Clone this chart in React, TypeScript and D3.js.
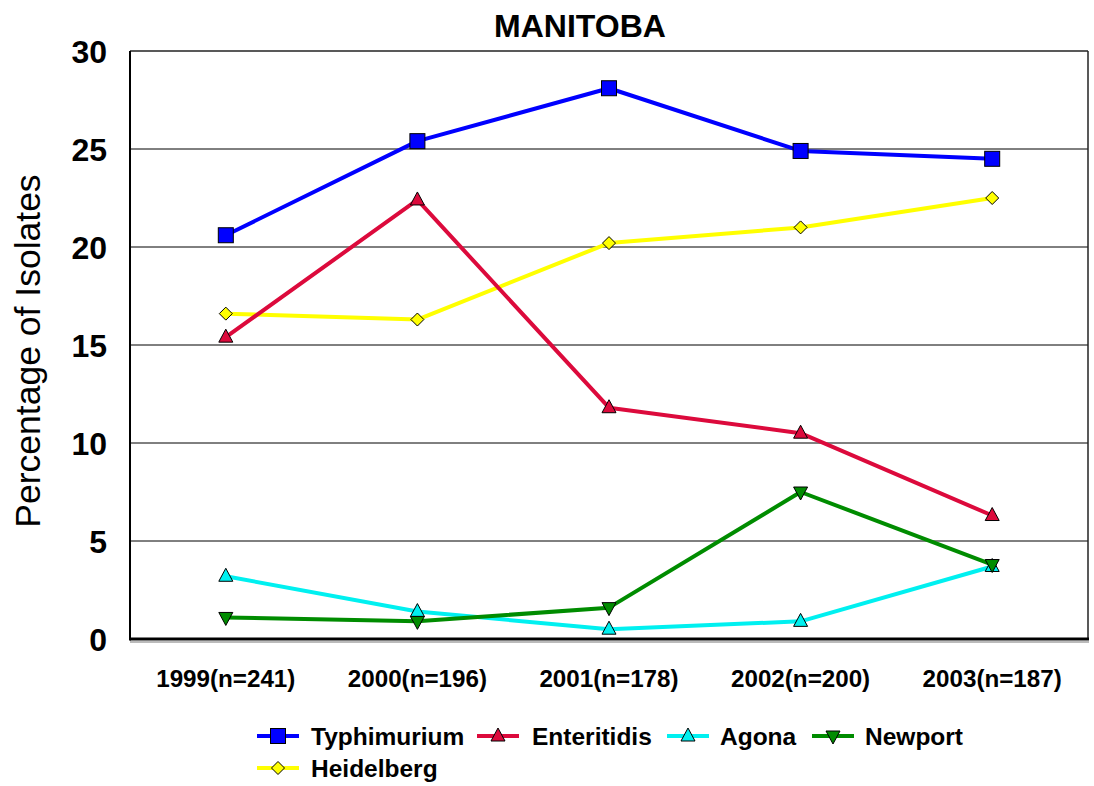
import React from "react";
import * as d3 from "d3";

const categories = ["1999(n=241)", "2000(n=196)", "2001(n=178)", "2002(n=200)", "2003(n=187)"];
const typhimurium = [20.6, 25.4, 28.1, 24.9, 24.5];
const enteritidis = [15.4, 22.4, 11.8, 10.5, 6.3];
const agona = [3.2, 1.4, 0.5, 0.9, 3.7];
const newport = [1.1, 0.9, 1.6, 7.5, 3.8];
const heidelberg = [16.6, 16.3, 20.2, 21.0, 22.5];
const yTicks = [0, 5, 10, 15, 20, 25, 30];

type Shape = "square" | "tri" | "triDown" | "diamond";
const series: { name: string; values: number[]; color: string; shape: Shape }[] = [
  { name: "Typhimurium", values: typhimurium, color: "#0000ff", shape: "square" },
  { name: "Enteritidis", values: enteritidis, color: "#dc0a3c", shape: "tri" },
  { name: "Agona", values: agona, color: "#00f0f0", shape: "tri" },
  { name: "Newport", values: newport, color: "#008c00", shape: "triDown" },
  { name: "Heidelberg", values: heidelberg, color: "#ffff00", shape: "diamond" },
];
const drawOrder = [4, 2, 3, 1, 0];

const W = 1094, H = 786;
const left = 130, right = 1088, top = 51, bottom = 639;
const FONT = "'Liberation Sans', Arial, sans-serif";

function Marker({ shape, x, y, fill }: { shape: Shape; x: number; y: number; fill: string }) {
  const stroke = "#000";
  if (shape === "square") return <rect x={x - 7.5} y={y - 7.5} width={15} height={15} fill={fill} stroke={stroke} strokeWidth={1} />;
  if (shape === "tri") return <path d={`M${x},${y - 8}L${x + 7},${y + 5}L${x - 7},${y + 5}Z`} fill={fill} stroke={stroke} strokeWidth={1} />;
  if (shape === "triDown") return <path d={`M${x},${y + 8}L${x + 7},${y - 5}L${x - 7},${y - 5}Z`} fill={fill} stroke={stroke} strokeWidth={1} />;
  return <path d={`M${x},${y - 6.5}L${x + 6.5},${y}L${x},${y + 6.5}L${x - 6.5},${y}Z`} fill={fill} stroke={stroke} strokeWidth={1} />;
}

export default function App() {
  const x = d3.scalePoint<string>().domain(categories).range([left, right]).padding(0.5);
  const y = d3.scaleLinear().domain([0, 30]).range([bottom, top]);
  const line = d3.line<number>().x((_, i) => x(categories[i]) as number).y((d) => y(d));

  const legendItems = [
    { i: 0, lx: 257, tx: 311, ly: 736 },
    { i: 1, lx: 477, tx: 532, ly: 736 },
    { i: 2, lx: 667, tx: 720, ly: 736 },
    { i: 3, lx: 812, tx: 865, ly: 736 },
    { i: 4, lx: 257, tx: 311, ly: 768 },
  ];

  return (
    <svg width={W} height={H} style={{ position: "absolute", left: 0, top: 0, background: "#fff" }} fontFamily={FONT}>
      <rect x={0} y={0} width={W} height={H} fill="#fff" />
      {yTicks.filter((t) => t > 0 && t < 30).map((t) => (
        <line key={t} x1={left} x2={right} y1={y(t)} y2={y(t)} stroke="#000" strokeWidth={1} />
      ))}
      <line x1={left} x2={right} y1={top} y2={top} stroke="#222" strokeWidth={1.5} />
      <line x1={right} x2={right} y1={top} y2={bottom} stroke="#222" strokeWidth={1.5} />
      <line x1={left} x2={right + 1} y1={bottom + 3} y2={bottom + 3} stroke="#bbb" strokeWidth={2} />
      <line x1={left} x2={right + 1} y1={bottom} y2={bottom} stroke="#000" strokeWidth={3} />
      <line x1={left} x2={left} y1={top} y2={bottom + 1.5} stroke="#000" strokeWidth={2} />
      {yTicks.map((t) => (
        <text key={t} x={107} y={y(t)} dy="0.36em" textAnchor="end" fontSize={32} fontWeight="bold">{t}</text>
      ))}
      {categories.map((c) => (
        <text key={c} x={x(c)} y={687} textAnchor="middle" fontSize={24.2} fontWeight="bold">{c}</text>
      ))}
      <text x={580} y={37} textAnchor="middle" fontSize={32} fontWeight="bold">MANITOBA</text>
      <text transform={`translate(40,351) rotate(-90)`} textAnchor="middle" fontSize={35.5}>Percentage of Isolates</text>
      {drawOrder.map((si) => {
        const s = series[si];
        return <path key={s.name} d={line(s.values) || ""} fill="none" stroke={s.color} strokeWidth={4} strokeLinejoin="round" />;
      })}
      {drawOrder.map((si) => {
        const s = series[si];
        return (
          <g key={s.name + "m"}>
            {s.values.map((v, i) => (
              <Marker key={i} shape={s.shape} x={x(categories[i]) as number} y={y(v)} fill={s.color} />
            ))}
          </g>
        );
      })}
      {legendItems.map(({ i, lx, tx, ly }) => {
        const s = series[i];
        return (
          <g key={s.name + "leg"}>
            <line x1={lx} x2={lx + 42} y1={ly} y2={ly} stroke={s.color} strokeWidth={4} />
            <Marker shape={s.shape} x={lx + 21} y={ly} fill={s.color} />
            <text x={tx} y={ly} dy="0.36em" fontSize={24.5} fontWeight="bold">{s.name}</text>
          </g>
        );
      })}
    </svg>
  );
}
